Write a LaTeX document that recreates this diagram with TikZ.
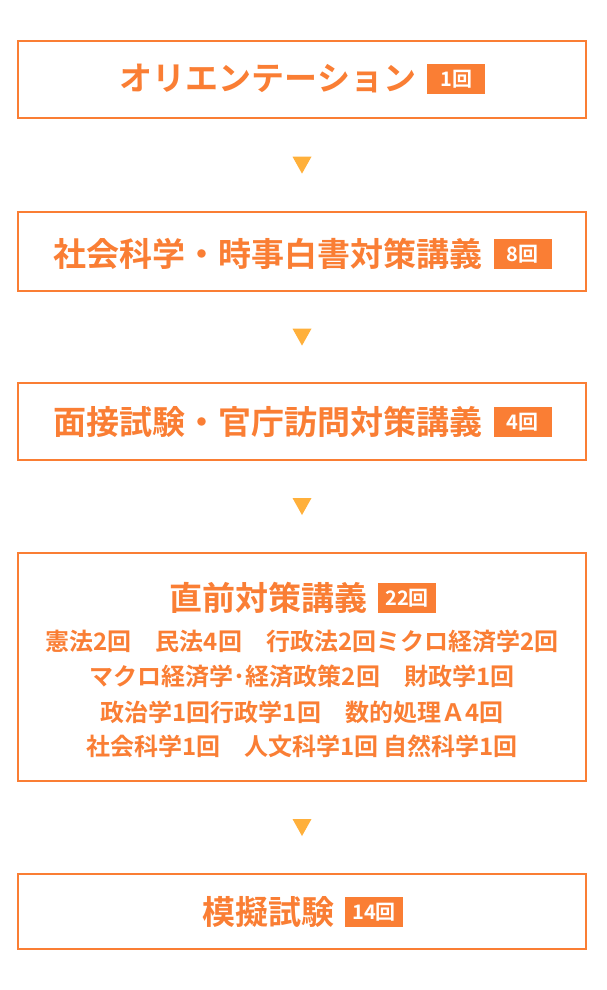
\documentclass[tikz,border=0pt]{standalone}
\usepackage{fontspec}
\setmainfont{Noto Sans CJK JP}[BoldFont={Noto Sans CJK JP Bold}]
\usetikzlibrary{calc}
\definecolor{ora}{RGB}{250,126,52}
\definecolor{arr}{RGB}{255,176,59}
\newcommand\kaisu[1]{\hspace{11pt}\raisebox{-3pt}{\setlength{\fboxsep}{0pt}\colorbox{ora}{\makebox[58pt][c]{\rule{0pt}{30pt}\raisebox{7.4pt}{\fontsize{20pt}{20pt}\selectfont\bfseries\color{white}#1}}}}}
\begin{document}
\begin{tikzpicture}[x=1pt,y=-1pt,
  stepbox/.style={draw=ora, line width=2pt, minimum width=568pt, inner sep=0pt, rectangle},
  ttl/.style={anchor=base, text=ora, font=\fontsize{33pt}{33pt}\selectfont\bfseries, inner sep=0pt},
  body/.style={anchor=base, text=ora, font=\fontsize{24pt}{24pt}\selectfont\bfseries, inner sep=0pt},
  tri/.style={fill=arr}]
\useasboundingbox (0,0) rectangle (606,990);
\fill[white] (0,0) rectangle (606,990);
% boxes
\node[stepbox, minimum height=77pt] (b1) at (302,79.5) {};
\node[stepbox, minimum height=79pt] (b2) at (302,251.75) {};
\node[stepbox, minimum height=77pt] (b3) at (302,421.5) {};
\node[stepbox, minimum height=228pt] (b4) at (302,667) {};
\node[stepbox, minimum height=75pt] (b5) at (302,911.5) {};
% titles
\node[ttl] (t1) at (302.5,90.5) {オリエンテーション\kaisu{1回}};
\node[ttl] (t2) at (302.5,266) {社会科学・時事白書対策講義\kaisu{8回}};
\node[ttl] (t3) at (302.5,434) {面接試験・官庁訪問対策講義\kaisu{4回}};
\node[ttl] (t4) at (302.5,610) {直前対策講義\kaisu{22回}};
\node[ttl] (t5) at (302.5,924) {模擬試験\kaisu{14回}};
% body lines
\node[body] (l1) at (302,650) {憲法2回　民法4回　行政法2回ミクロ経済学2回};
\node[body] (l2) at (302,685) {マクロ経済学･経済政策2回　財政学1回};
\node[body] (l3) at (302,721) {政治学1回行政学1回　数的処理Ａ4回};
\node[body] (l4) at (302,755) {社会科学1回　人文科学1回 自然科学1回};
% arrows
\foreach \u/\v/\n in {b1/b2/1, b2/b3/2, b3/b4/3, b4/b5/4} {
  \coordinate (m\n) at ($(\u.south)!.5!(\v.north)$);
  \fill[tri] ($(m\n)+(-9.5,-8.5)$) -- ++(19,0) -- ++(-9.5,17) -- cycle;
}
\end{tikzpicture}
\end{document}
